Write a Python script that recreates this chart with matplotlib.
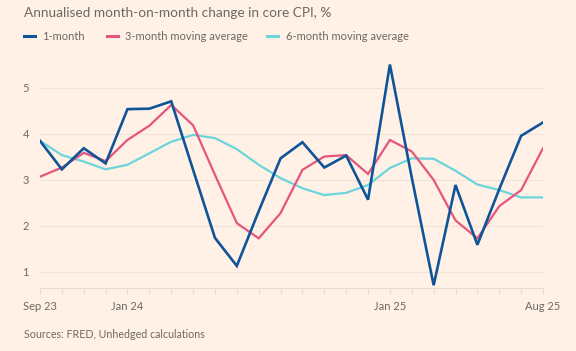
import numpy as np
import matplotlib
matplotlib.use('Agg')
import matplotlib.pyplot as plt
from matplotlib.lines import Line2D

# Monthly data, Sep 2023 - Aug 2025
months = ['Sep 23', 'Oct 23', 'Nov 23', 'Dec 23', 'Jan 24', 'Feb 24', 'Mar 24', 'Apr 24',
          'May 24', 'Jun 24', 'Jul 24', 'Aug 24', 'Sep 24', 'Oct 24', 'Nov 24', 'Dec 24',
          'Jan 25', 'Feb 25', 'Mar 25', 'Apr 25', 'May 25', 'Jun 25', 'Jul 25', 'Aug 25']
one_month = [3.85, 3.23, 3.69, 3.36, 4.54, 4.55, 4.71, 3.22, 1.74, 1.13, 2.32, 3.47,
             3.82, 3.27, 3.53, 2.57, 5.51, 3.05, 0.71, 2.89, 1.59, 2.80, 3.96, 4.25]
three_month = [3.07, 3.27, 3.59, 3.41, 3.87, 4.18, 4.63, 4.19, 3.11, 2.06, 1.73, 2.28,
               3.22, 3.51, 3.54, 3.13, 3.87, 3.62, 3.00, 2.12, 1.73, 2.43, 2.78, 3.69]
six_month = [3.85, 3.54, 3.40, 3.23, 3.33, 3.58, 3.83, 3.98, 3.91, 3.67, 3.33, 3.04,
             2.82, 2.67, 2.72, 2.89, 3.26, 3.47, 3.46, 3.20, 2.90, 2.78, 2.62, 2.62]
tick_idx = [0, 4, 16, 23]
yticks = [1, 2, 3, 4, 5]

bg = '#FFF1E5'
grey = '#6E6863'
colors = {'1-month': '#0F5499', '3-month moving average': '#E6557F',
          '6-month moving average': '#6DD4DC'}

plt.rcParams['font.family'] = ['Lato', 'DejaVu Sans']

fig = plt.figure(figsize=(5.76, 3.51), dpi=100, facecolor=bg)
W, H = 576, 351
ax = fig.add_axes([40 / W, 1 - 288 / H, 503 / W, (288 - 60.4) / H], facecolor=bg)

x = np.arange(len(months))
ax.plot(x, six_month, color=colors['6-month moving average'], lw=1.6, solid_joinstyle='miter', zorder=3)
ax.plot(x, three_month, color=colors['3-month moving average'], lw=1.6, solid_joinstyle='miter', zorder=4)
ax.plot(x, one_month, color=colors['1-month'], lw=1.9, solid_joinstyle='miter', zorder=5)

ax.set_xlim(0, len(months) - 1)
ax.set_ylim(0.65, 5.6)
ax.set_yticks(yticks)
ax.set_yticklabels([str(v) for v in yticks])
ax.grid(axis='y', color='#F2E3D7', lw=0.8)
ax.set_axisbelow(True)

ax.set_xticks(x, minor=True)
ax.set_xticks(tick_idx)
ax.set_xticklabels([months[i] for i in tick_idx])
ax.tick_params(axis='x', which='both', length=4, color='#EDDDD0', width=0.8,
               labelsize=8, labelcolor=grey, pad=5)
ax.tick_params(axis='y', length=0, labelsize=8, labelcolor=grey, pad=8)

for s in ['top', 'right', 'left']:
    ax.spines[s].set_visible(False)
ax.spines['bottom'].set_color('#EDDDD0')
ax.spines['bottom'].set_linewidth(0.8)

# title, legend, source
fig.text(24 / W, 1 - 12.7 / H, 'Annualised month-on-month change in core CPI, %',
         fontsize=9.8, color=grey, va='center', ha='left')

legend_items = [('1-month', 24, 42), ('3-month moving average', 107, 125),
                ('6-month moving average', 266.5, 286)]
ly = 1 - 36 / H
for label, sx, tx in legend_items:
    fig.add_artist(Line2D([sx / W, (sx + 11) / W], [ly, ly], color=colors[label],
                          lw=2.2, transform=fig.transFigure))
    fig.text(tx / W, ly, label, fontsize=8, color=grey, va='center', ha='left')

fig.text(24 / W, 1 - 335 / H, 'Sources: FRED, Unhedged calculations',
         fontsize=7.7, color=grey, va='center', ha='left')

fig.savefig('out.png', dpi=100, facecolor=bg)
